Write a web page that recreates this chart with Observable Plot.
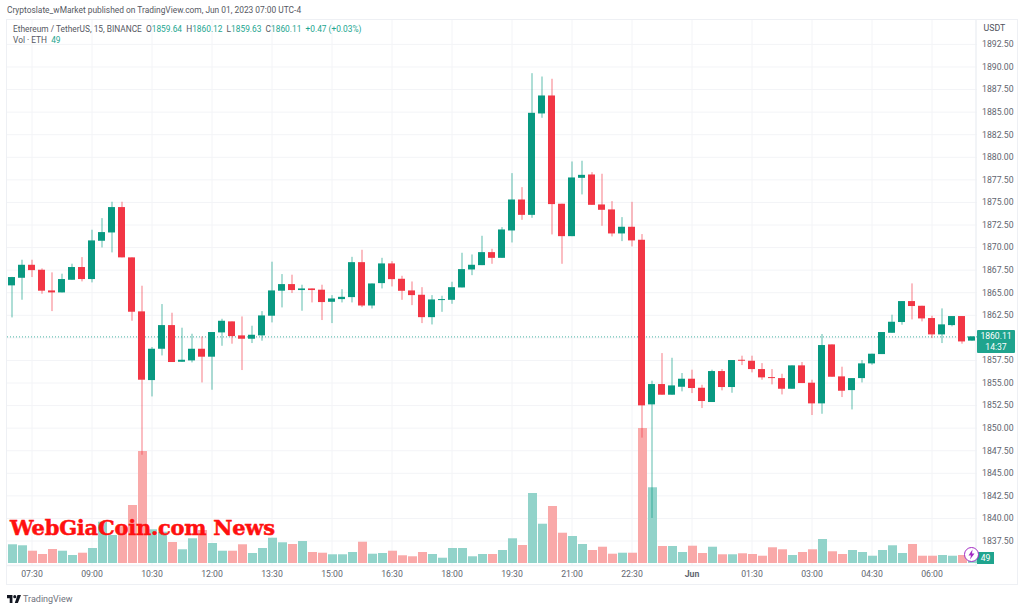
<!DOCTYPE html>
<html>
<head>
<meta charset="utf-8">
<script src="https://cdn.jsdelivr.net/npm/d3@7"></script>
<script src="https://cdn.jsdelivr.net/npm/@observablehq/plot@0.6"></script>
<style>
html,body{margin:0;padding:0;background:#fff;width:1024px;height:607px;overflow:hidden;font-family:Roboto,"Noto Sans",sans-serif;}
#title{height:19px;box-sizing:border-box;padding:5px 0 0 7px;font-size:8.4px;line-height:10px;color:#555862;white-space:nowrap;}
#chart{position:relative;width:1024px;height:565px;}
#chart svg.layer,#chart figure{position:absolute;left:0;top:0;margin:0;}
#border{position:absolute;left:6px;top:0;width:1010px;height:564px;border:1.5px solid #eef0f4;box-sizing:content-box;pointer-events:none;}
#legend{position:absolute;left:13px;top:5px;font-size:8.35px;line-height:11px;color:#555862;white-space:pre;}
#legend b{font-weight:400;color:#22a58f;}
#mark{position:absolute;left:10px;top:495px;font:900 21px/28px "DejaVu Serif",serif;color:#ff1010;letter-spacing:-.25px;white-space:pre;-webkit-text-stroke:.5px #ff1010;}
.box{position:absolute;left:977px;background:#1fa48e;color:#fff;text-align:center;font-weight:400;}
#last{width:38px;height:23px;font-size:8.6px;line-height:11px;padding-top:1px;box-sizing:border-box;border-radius:1px;}
#vol{width:17px;height:12px;font-size:8.6px;line-height:12px;}
#bolt{position:absolute;left:963px;top:527px;}
#foot{height:23px;box-sizing:border-box;padding:7px 0 0 7px;font-size:9px;line-height:11px;color:#6f727c;display:flex;gap:2px;align-items:center;}
</style>
</head>
<body>
<div id="title">Cryptoslate_wMarket published on TradingView.com, Jun 01, 2023 07:00 UTC-4</div>
<div id="chart"></div>
<div id="foot"><svg width="14" height="8" viewBox="0 0 36 20"><path d="M14 20H7V8H0V0h14zM28 20H20L27 0h9z" fill="#131722"/><circle cx="20" cy="4" r="4" fill="#131722"/></svg><span>TradingView</span></div>
<script>
const opens = [1865.76,1866.60,1868.04,1867.49,1865.20,1864.98,1866.38,1867.79,1866.46,1870.70,1871.62,1874.43,1868.86,1862.88,1855.27,1858.74,1861.36,1857.30,1857.45,1858.74,1857.86,1860.55,1861.77,1860.22,1859.85,1860.22,1862.40,1865.17,1865.90,1865.24,1865.42,1865.28,1863.94,1864.24,1864.46,1868.33,1863.53,1866.01,1868.19,1866.49,1865.20,1864.72,1862.24,1864.13,1864.16,1865.53,1867.52,1868.00,1869.44,1868.81,1871.84,1875.27,1873.57,1884.80,1886.79,1874.80,1871.21,1877.67,1878.04,1874.72,1874.17,1871.51,1872.25,1870.81,1852.58,1854.83,1853.65,1854.53,1855.42,1854.42,1852.84,1856.27,1854.50,1857.52,1857.41,1856.49,1855.60,1855.49,1854.31,1856.90,1854.98,1852.69,1859.22,1855.68,1854.16,1855.49,1857.12,1858.15,1860.51,1861.70,1864.02,1863.50,1862.14,1860.33,1861.36,1862.36,1859.64];
const closes = [1866.68,1868.04,1867.45,1865.17,1864.98,1866.46,1867.79,1866.46,1870.74,1871.66,1874.43,1868.86,1862.84,1855.31,1858.74,1861.36,1857.27,1857.52,1858.74,1857.86,1860.59,1861.84,1860.14,1859.85,1860.29,1862.43,1865.20,1865.90,1865.24,1865.42,1865.24,1863.91,1864.31,1864.49,1868.33,1863.53,1865.97,1868.19,1866.45,1865.16,1864.68,1862.24,1864.20,1864.24,1865.56,1867.56,1868.04,1869.44,1868.81,1871.95,1875.27,1873.57,1884.87,1886.79,1874.76,1871.21,1877.71,1878.00,1874.68,1874.13,1871.51,1872.25,1870.74,1852.47,1854.83,1853.65,1854.68,1855.42,1854.39,1852.95,1856.27,1854.50,1857.49,1857.41,1856.49,1855.57,1855.49,1854.31,1856.90,1854.94,1852.69,1859.15,1855.64,1854.09,1855.49,1857.12,1858.19,1860.59,1861.73,1864.02,1863.47,1862.10,1860.33,1861.44,1862.36,1859.55,1860.11];
const highs = [1866.70,1868.60,1868.60,1867.64,1867.20,1867.05,1868.16,1868.89,1871.92,1873.21,1875.02,1875.02,1868.86,1865.72,1858.93,1863.69,1862.73,1861.07,1860.40,1860.11,1860.59,1862.06,1861.77,1862.32,1861.29,1862.91,1868.38,1867.01,1866.94,1865.83,1865.42,1865.83,1864.68,1865.34,1868.92,1869.70,1865.97,1868.81,1868.44,1866.82,1866.19,1865.56,1864.68,1864.61,1866.16,1869.37,1869.18,1871.25,1869.81,1872.21,1878.19,1876.64,1889.26,1888.89,1888.64,1874.80,1879.48,1879.56,1878.30,1878.12,1875.09,1873.32,1875.01,1871.44,1855.20,1858.26,1857.74,1856.05,1856.42,1854.75,1856.42,1856.49,1857.49,1857.97,1857.97,1857.15,1856.49,1855.97,1856.90,1857.27,1855.31,1860.37,1859.22,1856.75,1855.49,1857.49,1858.19,1860.59,1862.51,1864.02,1865.98,1863.50,1862.40,1863.21,1862.36,1862.36,1860.12];
const lows = [1862.21,1864.17,1866.68,1864.83,1862.91,1864.98,1866.38,1866.20,1866.09,1869.96,1869.41,1868.86,1861.84,1847.00,1853.46,1858.00,1857.27,1857.30,1857.23,1855.01,1854.20,1859.07,1859.30,1856.38,1859.37,1859.63,1861.66,1863.32,1864.91,1862.95,1863.87,1861.92,1861.58,1863.87,1863.87,1863.35,1863.20,1865.42,1865.64,1864.16,1863.57,1861.58,1861.43,1862.83,1863.72,1865.53,1866.89,1868.00,1868.15,1868.81,1870.51,1873.02,1873.24,1884.32,1871.40,1868.15,1871.21,1875.83,1874.68,1872.36,1871.18,1870.66,1870.07,1848.90,1840.00,1853.65,1853.65,1854.02,1853.83,1852.17,1852.84,1854.13,1853.87,1856.93,1856.12,1855.31,1854.79,1853.68,1854.31,1854.94,1851.40,1851.54,1855.64,1853.39,1852.02,1855.01,1856.97,1858.15,1860.51,1861.40,1861.99,1861.77,1859.92,1859.37,1861.22,1859.30,1859.63];
const volumes = [131,124,86,63,98,86,56,72,105,289,196,257,406,784,236,219,147,96,173,231,140,86,86,131,70,105,177,145,133,154,77,72,61,61,77,149,65,70,86,54,47,77,63,37,105,105,47,63,63,91,173,126,490,275,399,212,189,133,91,114,65,72,72,945,530,119,119,77,121,70,114,61,61,68,63,51,110,96,56,77,96,168,82,63,91,77,51,91,124,70,133,51,51,56,51,56,49];
const priceTicks = [1837.5,1840,1842.5,1845,1847.5,1850,1852.5,1855,1857.5,1860,1862.5,1865,1867.5,1870,1872.5,1875,1877.5,1880,1882.5,1885,1887.5,1890,1892.5];
const hiddenTick = 1860;
const timeTicks = ["2023-05-31T07:30Z","2023-05-31T09:00Z","2023-05-31T10:30Z","2023-05-31T12:00Z","2023-05-31T13:30Z","2023-05-31T15:00Z","2023-05-31T16:30Z","2023-05-31T18:00Z","2023-05-31T19:30Z","2023-05-31T21:00Z","2023-05-31T22:30Z","2023-06-01T00:00Z","2023-06-01T01:30Z","2023-06-01T03:00Z","2023-06-01T04:30Z","2023-06-01T06:00Z"].map(s => new Date(s));
const lastPrice = 1860.11;
const upColor = "#089981", downColor = "#f23645";
const upVol = "#92d3ca", downVol = "#f9a9a9";

const times = opens.map((_, i) => new Date(Date.UTC(2023, 4, 31, 7, 15 * i)));
const candles = times.map((t, i) => ({t, open: opens[i], close: closes[i], high: highs[i], low: lows[i], volume: volumes[i]}));
const up = candles.filter(d => d.close >= d.open), down = candles.filter(d => d.close < d.open);

const W = 1024, H = 565, bottom = 18;
const xBand = (p) => ({type: "band", domain: times, range: [7, 977], paddingInner: p, paddingOuter: p / 2, align: 0.5});
const yPrice = {domain: [1834.79, 1895.26], range: [546, 0]};
const base = {width: W, height: H, marginLeft: 7, marginRight: 47, marginTop: 0, marginBottom: bottom, style: {background: "transparent", overflow: "visible"}};
const labelFont = {fontSize: 8.7, fill: "#62656f", fontFamily: "Roboto"};

const fmtTime = d => d3.utcFormat("%H:%M")(d);
const back = Plot.plot({...base, x: {...xBand(0.26), axis: null}, y: {...yPrice, axis: null}, marks: [
  Plot.ruleX(timeTicks, {x: d => d, y1: yPrice.domain[0], y2: yPrice.domain[1], stroke: "#f3f4f7", strokeWidth: 1}),
  Plot.ruleY(priceTicks, {y: d => d, stroke: "#f3f4f7", strokeWidth: 1}),
  Plot.axisY({anchor: "right", ticks: priceTicks.filter(d => d !== hiddenTick), tickSize: 0, tickPadding: 4.5, tickFormat: d => d.toFixed(2), label: null, textAnchor: "start", ...labelFont}),
  Plot.axisX({anchor: "bottom", ticks: timeTicks.filter(d => d.getUTCHours() !== 0), tickSize: 0, tickPadding: 4, tickFormat: fmtTime, label: null, ...labelFont}),
  Plot.axisX({anchor: "bottom", ticks: timeTicks.filter(d => d.getUTCHours() === 0), tickSize: 0, tickPadding: 4, tickFormat: () => "Jun", label: null, ...labelFont, fontWeight: 700}),
  Plot.text(["USDT"], {frameAnchor: "top-right", dx: 6, dy: 5, textAnchor: "start", text: d => d, fontSize: 8.8, fill: "#50535e", fontFamily: "Roboto"}),
  Plot.ruleX([times[96]], {x: d => d, dx: 4, y1: yPrice.domain[0], y2: yPrice.domain[1], stroke: "#eef0f4", strokeWidth: 1.5}),
  Plot.ruleY([yPrice.domain[0]], {y: d => d, stroke: "#eef0f4", strokeWidth: 1.5})
]});

const volume = Plot.plot({...base, x: {...xBand(0.11), axis: null}, y: {domain: [0, 1000], range: [544, 401.14], axis: null}, marks: [
  Plot.barY(up, {x: "t", y1: 0, y2: "volume", fill: upVol}),
  Plot.barY(down, {x: "t", y1: 0, y2: "volume", fill: downVol})
]});

const wickOpts = {x: "t", y1: "low", y2: "high", strokeWidth: 1, strokeOpacity: 0.65};
const bodyOpts = {x: "t", y1: "open", y2: "close"};
const front = Plot.plot({...base, x: {...xBand(0.26), axis: null}, y: {...yPrice, axis: null}, marks: [
  Plot.ruleY([lastPrice], {y: d => d, stroke: "#1fa48e", strokeWidth: 1, strokeDasharray: "1,2", strokeOpacity: 0.8}),
  Plot.ruleX(up, {...wickOpts, stroke: upColor}),
  Plot.ruleX(down, {...wickOpts, stroke: downColor}),
  Plot.barY(up, {...bodyOpts, fill: upColor}),
  Plot.barY(down, {...bodyOpts, fill: downColor})
]});

const chart = document.getElementById("chart");
for (const p of [back, volume, front]) { p.classList.add("layer"); chart.appendChild(p); }

const fmt = v => v.toFixed(2);
const last = candles[candles.length - 1];
const el = (id, cls, html) => { const e = document.createElement("div"); if (id) e.id = id; if (cls) e.className = cls; e.innerHTML = html; chart.appendChild(e); return e; };
el("border", "", "");
el("legend", "", `Ethereum / TetherUS, 15, BINANCE  O<b>${fmt(last.open)}</b>  H<b>${fmt(last.high)}</b>  L<b>${fmt(last.low)}</b>  C<b>${fmt(last.close)}</b>  <b>+0.47 (+0.03%)</b>\nVol · ETH  <b>${last.volume}</b>`);
el("mark", "", "WebGiaCoin.com News");
const yLast = front.scale("y").apply(lastPrice);
const lb = el("last", "box", `${fmt(lastPrice)}<br>14:37`);
lb.style.top = (yLast - 6) + "px";
const vb = el("vol", "box", String(last.volume));
vb.style.top = (volume.scale("y").apply(0) - 11) + "px";
el("bolt", "", `<svg width="17" height="17" viewBox="0 0 17 17"><circle cx="8.5" cy="8.5" r="7" fill="#fff" stroke="#a32cc4" stroke-width="1"/><path d="M9.5 3.5 5.5 9.5H8L7 13.5 11.5 7.5H9z" fill="#a32cc4"/></svg>`);
</script>
</body>
</html>
